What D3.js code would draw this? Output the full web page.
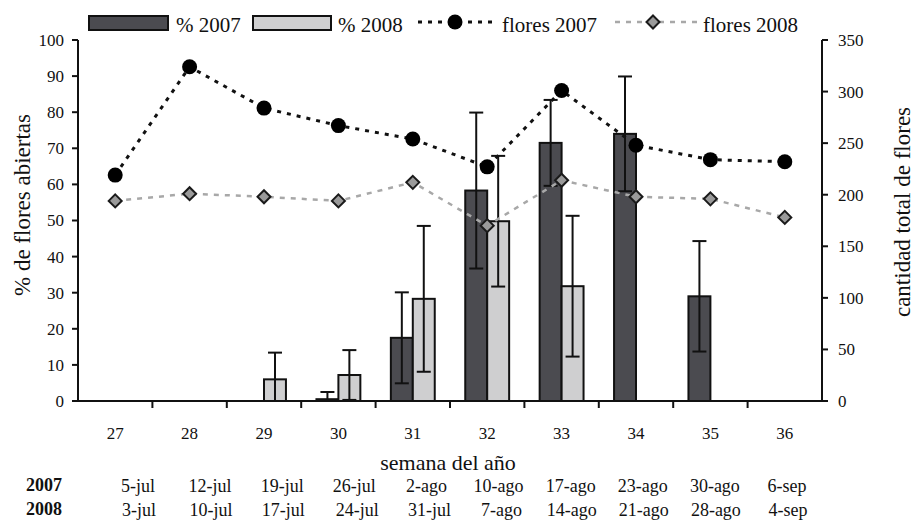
<!DOCTYPE html>
<html><head><meta charset="utf-8">
<script src="https://cdn.jsdelivr.net/npm/d3@7"></script>
<style>body{margin:0;background:#fff}svg{display:block;font-family:"Liberation Serif","Times New Roman",serif}</style>
</head><body><svg id="c" width="920" height="520"></svg>
<script>
const weeks = [27,28,29,30,31,32,33,34,35,36];
const pct2007 = [0,0,0,0.5,17.5,58.3,71.5,74,29,0];
const err2007 = [0,0,0,2,12.6,21.6,11.9,15.9,15.3,0];
const pct2008 = [0,0,6,7.2,28.3,49.8,31.8,0,0,0];
const err2008 = [0,0,7.4,6.9,20.2,18.1,19.5,0,0,0];
const flores2007 = [219,324,284,267,254,227,301,248,234,232];
const flores2008 = [194,201,198,194,212,170,214,198,196,178];
const dates2007 = ["5-jul","12-jul","19-jul","26-jul","2-ago","10-ago","17-ago","23-ago","30-ago","6-sep"];
const dates2008 = ["3-jul","10-jul","17-jul","24-jul","31-jul","7-ago","14-ago","21-ago","28-ago","4-sep"];
const leftTicks = [0,10,20,30,40,50,60,70,80,90,100];
const rightTicks = [0,50,100,150,200,250,300,350];

const svg = d3.select("#c");
const L=78, R=822, T=40, B=401;
const x = d3.scaleBand().domain(weeks).range([L,R]).paddingInner(0.41).paddingOuter(0.205);
const x1 = d3.scaleBand().domain(["2007","2008"]).range([0,x.bandwidth()]);
const y = d3.scaleLinear().domain([0,100]).range([B,T]);
const y2 = d3.scaleLinear().domain([0,350]).range([B,T]);
const cx = w => x(w)+x.bandwidth()/2;

const dark="#4b4b50", light="#cfcfd0";

const series = [
  {key:"2007", vals:pct2007, errs:err2007, fill:dark},
  {key:"2008", vals:pct2008, errs:err2008, fill:light}
];
series.forEach(s=>{
  const g = svg.append("g");
  g.selectAll("rect").data(weeks.map((w,i)=>({w,v:s.vals[i],e:s.errs[i]})).filter(d=>d.v>0))
   .join("rect")
   .attr("x",d=>x(d.w)+x1(s.key)).attr("width",x1.bandwidth())
   .attr("y",d=>y(d.v)).attr("height",d=>B-y(d.v))
   .attr("fill",s.fill).attr("stroke","#111").attr("stroke-width",2);
});
series.forEach(s=>{
  const g = svg.append("g").attr("stroke","#111").attr("stroke-width",2);
  weeks.forEach((w,i)=>{
    const v=s.vals[i], e=s.errs[i];
    if(!(e>0)) return;
    const xc = x(w)+x1(s.key)+x1.bandwidth()/2;
    const lo = Math.max(0,v-e), hi=v+e;
    g.append("line").attr("x1",xc).attr("x2",xc).attr("y1",y(lo)).attr("y2",y(hi));
    g.append("line").attr("x1",xc-7).attr("x2",xc+7).attr("y1",y(hi)).attr("y2",y(hi));
    if(v-e>=0) g.append("line").attr("x1",xc-7).attr("x2",xc+7).attr("y1",y(v-e)).attr("y2",y(v-e));
  });
});

svg.append("line").attr("x1",L).attr("x2",R).attr("y1",B).attr("y2",B).attr("stroke","#111").attr("stroke-width",2);
svg.append("line").attr("x1",L).attr("x2",L).attr("y1",T).attr("y2",B).attr("stroke","#111").attr("stroke-width",2);
svg.append("line").attr("x1",R).attr("x2",R).attr("y1",T).attr("y2",B).attr("stroke","#111").attr("stroke-width",2);
const half = (x.step()-x.bandwidth())/2;
weeks.slice(1).forEach(w=>{
  const bx = x(w)-half;
  svg.append("line").attr("x1",bx).attr("x2",bx).attr("y1",B).attr("y2",B+7).attr("stroke","#111").attr("stroke-width",2);
});
svg.append("g").selectAll("text").data(weeks).join("text")
  .attr("x",d=>cx(d)).attr("y",439).attr("text-anchor","middle").attr("font-size",17).attr("fill","#111").text(d=>d);

const gl = svg.append("g");
leftTicks.forEach(t=>{
  gl.append("line").attr("x1",L-6).attr("x2",L).attr("y1",y(t)).attr("y2",y(t)).attr("stroke","#111").attr("stroke-width",2);
  gl.append("text").attr("x",64).attr("y",y(t)).attr("dy","0.35em").attr("text-anchor","end").attr("font-size",17).attr("fill","#111").text(t);
});
const gr = svg.append("g");
rightTicks.forEach(t=>{
  gr.append("line").attr("x1",R).attr("x2",R+6).attr("y1",y2(t)).attr("y2",y2(t)).attr("stroke","#111").attr("stroke-width",2);
  gr.append("text").attr("x",838).attr("y",y2(t)).attr("dy","0.35em").attr("text-anchor","start").attr("font-size",17).attr("fill","#111").text(t);
});

const lineGen = d3.line().x((d,i)=>cx(weeks[i])).y(d=>y2(d));
svg.append("path").attr("d",lineGen(flores2008)).attr("fill","none").attr("stroke","#a8a8a8").attr("stroke-width",2.5).attr("stroke-dasharray","5,6");
svg.append("path").attr("d",lineGen(flores2007)).attr("fill","none").attr("stroke","#111").attr("stroke-width",3).attr("stroke-dasharray","4,6");
const diamond = (g,xx,yy)=>g.append("path").attr("d",`M${xx},${yy-6.5}L${xx+6.5},${yy}L${xx},${yy+6.5}L${xx-6.5},${yy}Z`).attr("fill","#9a9a9a").attr("stroke","#1a1a1a").attr("stroke-width",2);
svg.append("g").selectAll("circle").data(flores2007).join("circle")
  .attr("cx",(d,i)=>cx(weeks[i])).attr("cy",d=>y2(d)).attr("r",7.5).attr("fill","#000");
const gd = svg.append("g");
flores2008.forEach((d,i)=>diamond(gd,cx(weeks[i]),y2(d)));

svg.append("text").attr("transform","translate(30,205) rotate(-90)").attr("text-anchor","middle").attr("font-size",23).attr("fill","#111").text("% de flores abiertas");
svg.append("text").attr("transform","translate(910,212) rotate(-90)").attr("text-anchor","middle").attr("font-size",23).attr("fill","#111").text("cantidad total de flores");
svg.append("text").attr("x",448).attr("y",470).attr("text-anchor","middle").attr("font-size",22).attr("fill","#111").text("semana del año");

const tx = d3.scaleLinear().domain([0,9]).range([138,787]);
svg.append("text").attr("x",26).attr("y",491).attr("font-size",18).attr("font-weight","bold").attr("fill","#111").text("2007");
svg.append("text").attr("x",26).attr("y",515).attr("font-size",18).attr("font-weight","bold").attr("fill","#111").text("2008");
svg.append("g").selectAll("text").data(dates2007).join("text").attr("x",(d,i)=>tx(i)).attr("y",492).attr("text-anchor","middle").attr("font-size",18).attr("fill","#111").text(d=>d);
svg.append("g").selectAll("text").data(dates2008).join("text").attr("x",(d,i)=>tx(i)+(i>=3&&i<=5?3:1)).attr("y",516).attr("text-anchor","middle").attr("font-size",18).attr("fill","#111").text(d=>d);

const lg = svg.append("g");
lg.append("rect").attr("x",89).attr("y",16).attr("width",79).attr("height",14).attr("fill",dark).attr("stroke","#111").attr("stroke-width",2);
lg.append("text").attr("x",176).attr("y",32).attr("font-size",21).attr("fill","#111").text("% 2007");
lg.append("rect").attr("x",253).attr("y",16).attr("width",78).attr("height",14).attr("fill",light).attr("stroke","#111").attr("stroke-width",2);
lg.append("text").attr("x",338).attr("y",32).attr("font-size",21).attr("fill","#111").text("% 2008");
lg.append("line").attr("x1",418).attr("x2",498).attr("y1",22).attr("y2",22).attr("stroke","#111").attr("stroke-width",3).attr("stroke-dasharray","4,6");
lg.append("circle").attr("cx",455).attr("cy",22).attr("r",7.5).attr("fill","#000");
lg.append("text").attr("x",502).attr("y",32).attr("font-size",21).attr("fill","#111").text("flores 2007");
lg.append("line").attr("x1",615).attr("x2",698).attr("y1",22).attr("y2",22).attr("stroke","#a8a8a8").attr("stroke-width",2.5).attr("stroke-dasharray","5,6");
diamond(lg,653,22);
lg.append("text").attr("x",703).attr("y",32).attr("font-size",21).attr("fill","#111").text("flores 2008");
</script></body></html>
